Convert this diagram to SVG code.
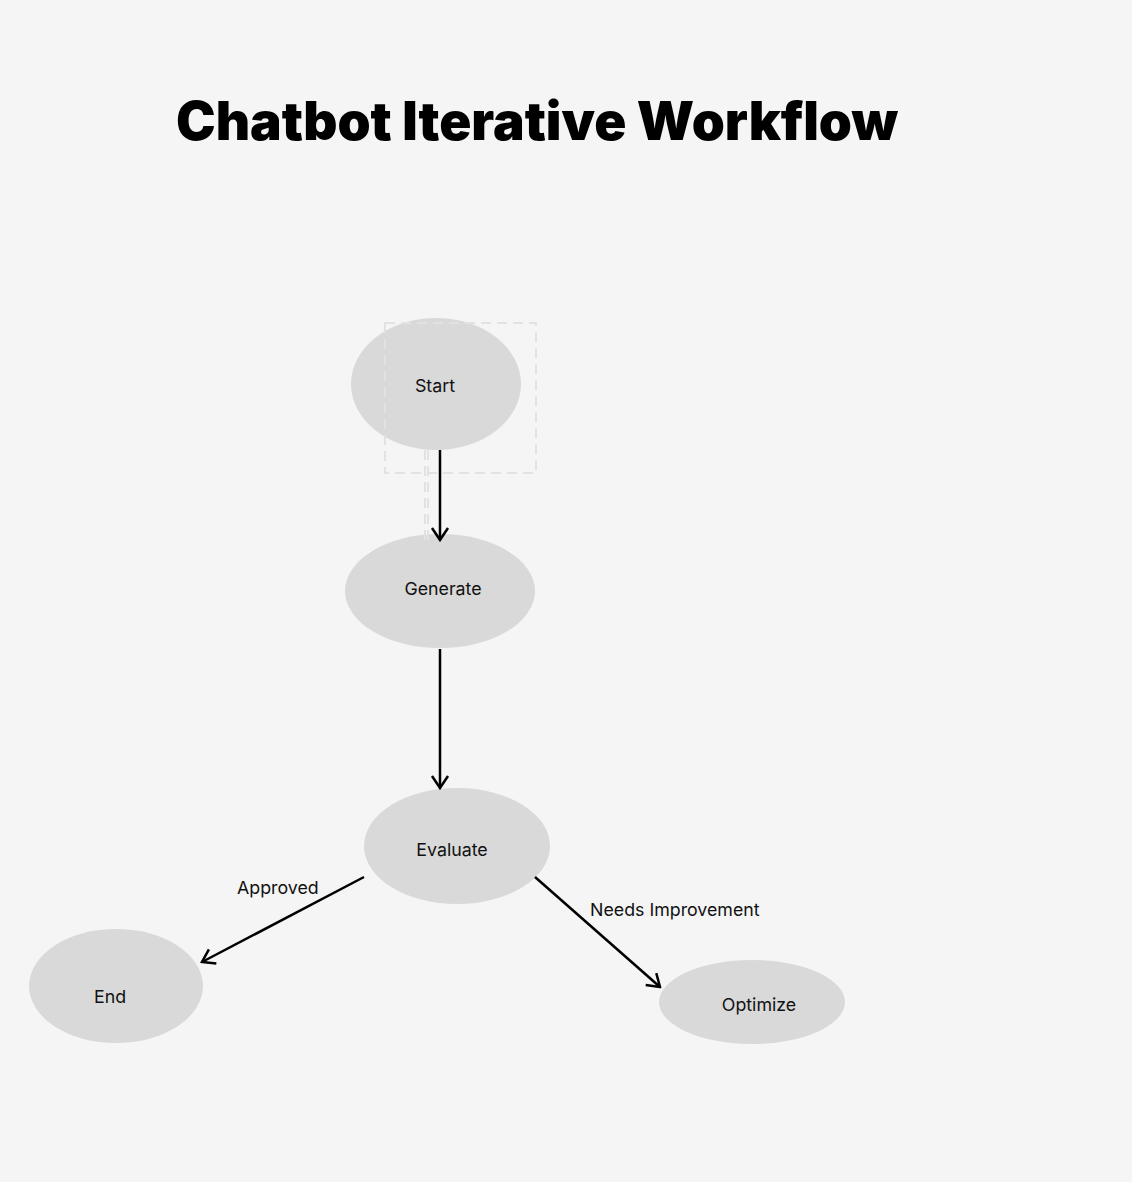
<svg xmlns="http://www.w3.org/2000/svg" width="1132" height="1182" viewBox="0 0 1132 1182">
<style>
.node ellipse{fill:#d9d9d9}
.node text{font-family:Inter,"Noto Sans",sans-serif;font-size:17.8px;fill:#111;text-anchor:middle;dominant-baseline:central}
.edge{stroke:#000;stroke-width:2.5;fill:none}
.lbl{font-family:Inter,"Noto Sans",sans-serif;font-size:17.8px;fill:#111}
.guide{stroke:#e2e2e2;stroke-width:2;fill:none;stroke-dasharray:10 6}
</style>
<defs>
<marker id="arr" viewBox="0 0 20 20" refX="18" refY="10" markerWidth="20" markerHeight="20" markerUnits="userSpaceOnUse" orient="auto">
<path d="M6 2 L18 10 L6 18" fill="none" stroke="#000" stroke-width="2.5"/>
</marker>
</defs>
<rect width="1132" height="1182" fill="#f5f5f5"/>
<text x="176" y="140" font-family="Inter,'Noto Sans',sans-serif" font-weight="900" font-size="53" textLength="722" lengthAdjust="spacingAndGlyphs" fill="#000">Chatbot Iterative Workflow</text>
<g id="node-start" class="node"><ellipse cx="436" cy="384" rx="85" ry="66"/><text x="435" y="385">Start</text></g>
<g id="node-generate" class="node"><ellipse cx="440" cy="591" rx="95" ry="57"/><text x="443" y="588">Generate</text></g>
<g id="node-evaluate" class="node"><ellipse cx="457" cy="846" rx="93" ry="58"/><text x="452" y="849">Evaluate</text></g>
<g id="node-end" class="node"><ellipse cx="116" cy="986" rx="87" ry="57"/><text x="110" y="996">End</text></g>
<g id="node-optimize" class="node"><ellipse cx="752" cy="1002" rx="93" ry="42"/><text x="759" y="1004">Optimize</text></g>
<g id="guides">
<rect x="385" y="323" width="151" height="150" class="guide"/>
<line x1="425" y1="450" x2="425" y2="540" class="guide"/>
<line x1="428" y1="450" x2="428" y2="540" class="guide"/>
</g>
<g id="connectors">
<line x1="440" y1="450" x2="440" y2="540" class="edge" marker-end="url(#arr)"/>
<line x1="440" y1="649" x2="440" y2="788" class="edge" marker-end="url(#arr)"/>
<line x1="364" y1="877" x2="202" y2="962" class="edge" marker-end="url(#arr)"/>
<line x1="535" y1="877" x2="660" y2="987" class="edge" marker-end="url(#arr)"/>
<text x="237" y="894" class="lbl">Approved</text>
<text x="590" y="916" class="lbl">Needs Improvement</text>
</g>
</svg>
